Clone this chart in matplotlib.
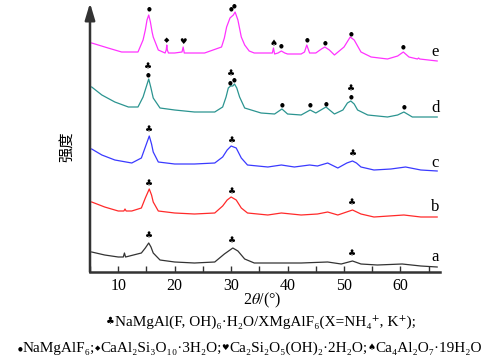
import matplotlib
matplotlib.use('Agg')
import matplotlib.pyplot as plt
from matplotlib.ticker import MultipleLocator

plt.rcParams['font.family'] = ['Liberation Serif', 'DejaVu Sans']
plt.rcParams['mathtext.fontset'] = 'stix'

# XRD patterns (2theta in degrees, intensity in a.u., already stacked)
a_x = [5.3, 7.6, 10.0, 10.9, 11.1, 11.3, 14.1, 14.8, 15.4, 15.8, 16.2, 17.4, 20.0, 23.5, 27.1, 28.8, 30.3,
       31.2, 32.4, 34.1, 38.9, 42.4, 47.1, 49.5, 51.5, 53.0, 55.9, 60.3, 63.6, 66.5]
a_y = [20, 17, 15, 15, 19, 15, 19, 24, 29, 25, 19, 12, 10, 9, 10, 18, 24,
       21, 13, 9, 9, 9, 10, 8, 11, 8, 7, 8, 6, 5]

b_x = [5.3, 7.6, 10.0, 11.0, 11.2, 11.4, 12.4, 14.1, 14.8, 15.5, 15.9, 16.2, 17.1, 20.0, 23.5, 27.1, 28.5,
       29.3, 30.0, 30.9, 31.8, 32.9, 36.5, 38.9, 42.4, 45.3, 47.1, 48.9, 51.5, 53.0, 55.3, 60.6, 63.6, 66.5]
b_y = [70, 65, 61, 61, 63, 61, 61, 64, 74, 83, 77, 70, 61, 59, 58, 59, 66,
       72, 75, 72, 64, 59, 57, 59, 57, 58, 60, 57, 62, 58, 55, 57, 55, 55]

c_x = [5.3, 7.1, 9.4, 12.4, 14.1, 14.8, 15.5, 15.9, 16.2, 17.1, 20.0, 23.5, 27.1, 28.5, 29.3, 30.0, 30.9,
       31.8, 32.9, 36.5, 38.9, 41.2, 43.9, 45.3, 47.1, 48.9, 50.5, 51.5, 52.2, 53.0, 55.3, 58.3, 60.9,
       63.6, 66.5]
c_y = [123, 117, 112, 109, 114, 125, 136, 128, 120, 110, 108, 108, 109, 115, 122, 126, 124,
       114, 107, 105, 107, 105, 107, 106, 109, 104, 109, 111, 109, 105, 102, 103, 105,
       102, 101]

d_x = [5.3, 7.1, 9.4, 11.8, 13.5, 14.4, 14.9, 15.4, 15.8, 16.2, 17.4, 20.0, 23.5, 27.1, 28.5, 29.1, 29.5,
       29.9, 30.3, 30.6, 31.0, 31.5, 32.4, 35.3, 37.7, 39.0, 40.0, 42.4, 44.0, 45.0, 46.8, 48.3, 49.8,
       50.6, 51.2, 51.8, 52.4, 54.2, 57.7, 59.5, 60.6, 62.1, 66.5]
d_y = [185, 177, 170, 165, 165, 175, 184, 193, 184, 174, 164, 162, 160, 160, 165, 175, 184,
       186, 186, 188, 184, 175, 164, 159, 158, 163, 158, 157, 162, 159, 165, 158, 162,
       169, 171, 168, 162, 157, 155, 157, 160, 155, 155]

e_x = [5.3, 8.2, 10.6, 13.5, 14.4, 14.8, 15.1, 15.4, 15.7, 16.0, 16.2, 17.1, 18.3, 18.5, 18.6, 18.7,
       18.9, 20.0, 21.3, 21.5, 21.7, 22.4, 25.3, 28.3, 28.8, 29.2, 29.8, 30.4, 30.7, 31.2, 31.8, 32.4,
       33.2, 34.1, 36.5, 37.3, 37.5, 37.7, 38.3, 38.9, 39.5, 40.0, 42.4, 43.0, 43.4, 43.9, 45.0, 46.0,
       46.6, 47.4, 48.3, 50.0, 51.1, 51.8, 53.0, 54.8, 57.7, 59.5, 60.5, 61.5, 63.0, 63.2, 63.4, 66.5]
e_y = [229, 224, 220, 220, 232, 242, 252, 257, 250, 240, 235, 222, 219, 222, 227, 222,
       219, 219, 220, 225, 219, 219, 219, 225, 234, 245, 254, 257, 260, 252, 235, 227,
       221, 219, 219, 219, 224, 218, 219, 221, 219, 218, 218, 220, 227, 219, 219, 223,
       225, 222, 217, 225, 235, 232, 220, 215, 213, 216, 220, 215, 213, 214, 213, 211]

names = ['a', 'b', 'c', 'd', 'e']
colors = ['#333333', '#ff2a2a', '#3a3aff', '#2b9490', '#ff33ff']
label_y = [15, 65, 109, 164, 220]

# phase markers: 2theta, height, symbol
mark_x = [15.4, 30.0, 30.6, 18.6, 21.5, 37.5, 38.9, 43.4, 46.6, 51.2, 60.5,
          15.3, 15.3, 29.9, 29.9, 30.6, 39.0, 44.0, 46.8, 51.2, 51.2, 60.6,
          15.4, 30.2, 51.6, 15.5, 30.2, 51.5, 15.4, 30.2, 51.5]
mark_y = [263, 263, 266, 232, 230, 228, 226, 232, 229, 238, 225,
          205, 197, 198, 189, 192, 167, 167, 168, 183, 175, 165,
          142, 131, 118, 88, 80, 69, 36, 31, 18]
mark_s = ['●', '●', '●', '◆', '♥', '♠', '●', '●', '●', '●', '●',
          '♣', '●', '♣', '●', '●', '●', '●', '●', '♣', '●', '●',
          '♣', '♣', '♣', '♣', '♣', '♣', '♣', '♣', '♣']
mark_size = {'●': 4, '◆': 5, '♥': 6, '♠': 6.5, '♣': 6.5}

W, H = 500, 362
fig = plt.figure(figsize=(W / 100, H / 100), dpi=100)
ax = fig.add_axes([90 / W, 1 - 272 / H, 350 / W, 269 / H])

for xs, ys, c in zip([a_x, b_x, c_x, d_x, e_x], [a_y, b_y, c_y, d_y, e_y], colors):
    ax.plot(xs, ys, color=c, lw=0.9)

for x, y, s in zip(mark_x, mark_y, mark_s):
    ax.text(x, y, s, ha='center', va='center', fontsize=mark_size[s], family='DejaVu Sans')

for n, y in zip(names, label_y):
    ax.text(66.2, y, n, ha='center', va='center', fontsize=12)

ax.set_xlim(5, 67)
ax.set_ylim(0, 269)
ax.xaxis.set_major_locator(MultipleLocator(10))
ax.xaxis.set_minor_locator(MultipleLocator(5))
ax.tick_params(axis='x', which='both', direction='in', length=4, width=1, color='#333333',
               labelsize=11.5, pad=4)
ax.set_yticks([])
for s in ['top', 'right', 'left']:
    ax.spines[s].set_visible(False)
ax.spines['bottom'].set_linewidth(1.8)
ax.spines['bottom'].set_color('#333333')
ax.annotate('', xy=(0, 1), xytext=(0, 0), xycoords='axes fraction',
            arrowprops=dict(arrowstyle='-|>,head_length=1.0,head_width=0.3', lw=1.8,
                            color='#333333', shrinkA=0, shrinkB=0))

fig.text(67 / W, 1 - 147 / H, '强度', rotation=90, ha='center', va='center', fontsize=11,
         family=['Noto Sans CJK SC', 'DejaVu Sans'])
fig.text(262 / W, 1 - 300 / H, r'2$\mathit{\theta}$/(°)', ha='center', va='center', fontsize=11.5)

# legend lines below the chart
line1 = [('♣', 7), ('NaMgAl(F, OH)₆·H₂O/XMgAlF₆(X=NH₄⁺, K⁺);', 11)]
line2 = [('●', 4), ('NaMgAlF₆;', 11), ('◆', 5), ('CaAl₂Si₃O₁₀·3H₂O;', 11), ('♥', 6),
         ('Ca₂Si₂O₅(OH)₂·2H₂O;', 11), ('♠', 6.5), ('Ca₄Al₂O₇·19H₂O', 11)]

fig.canvas.draw()
r = fig.canvas.get_renderer()


def put_line(parts, y_px, xc_px):
    texts = []
    for s, size in parts:
        if size < 8:  # small phase symbol, lifted to mid height
            t = fig.text(0, 1 - (y_px - 2) / H, s, fontsize=size, va='baseline', ha='left',
                         family=['DejaVu Sans'])
        else:
            t = fig.text(0, 1 - y_px / H, s, fontsize=size, va='baseline', ha='left',
                         family=['Liberation Serif', 'DejaVu Sans'])
        texts.append(t)
    widths = [t.get_window_extent(r).width for t in texts]
    x = xc_px - sum(widths) / 2
    for t, w in zip(texts, widths):
        t.set_x(x / W)
        x += w


put_line(line1, 326, 261)
put_line(line2, 352, 250)

fig.savefig('out.png', dpi=100)
